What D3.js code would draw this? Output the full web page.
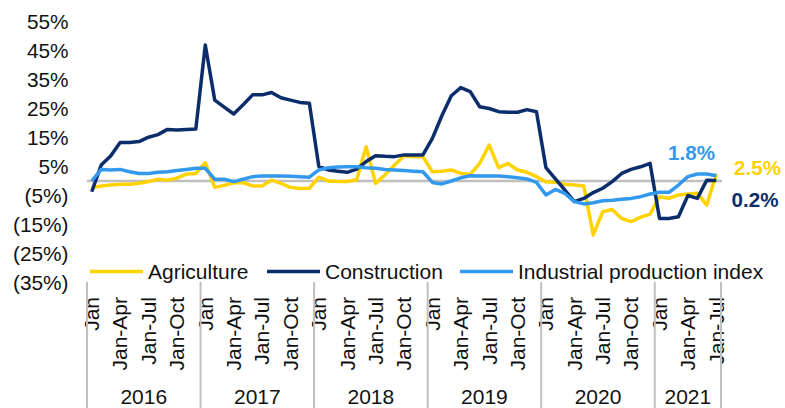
<!DOCTYPE html>
<head>
	<meta charset="utf-8">
	<script src="https://d3js.org/d3.v7.min.js"></script>
	<style>
		body { margin: 0; background: #fff; }
		text { font-family: "Liberation Sans", Arial, sans-serif; fill: #111; }
	</style>
</head>
<body>
	<svg id="chart" width="785" height="408"></svg>
	<script>

	// Years and how many months of each are shown
	var years = ["2016", "2017", "2018", "2019", "2020", "2021"];
	var monthsPerYear = [12, 12, 12, 12, 12, 7];
	// Month-in-year labels (every third month is labelled)
	var tickText = ["Jan", "", "", "Jan-Apr", "", "", "Jan-Jul", "", "", "Jan-Oct", "", ""];
	var yTicks = [55, 45, 35, 25, 15, 5, -5, -15, -25, -35];

	// Series, % year on year, Jan 2016 .. Jul 2021
	var agriculture = [
		-2.3, -1.7, -1.4, -1.1, -1.1, -0.8, -0.2, 0.6, 0.3, 1.0, 2.4, 2.6,
		6.3, -2.2, -1.5, -0.6, -0.6, -1.7, -1.7, 0.3, -0.8, -2.2, -2.6, -2.5,
		1.3, 0.0, -0.2, -0.2, 0.4, 11.8, -0.8, 2.1, 5.5, 8.7, 8.4, 8.4,
		3.2, 3.4, 3.8, 2.6, 2.3, 6.1, 12.4, 4.6, 6.1, 3.8, 3.0, 1.5,
		-0.3, -0.4, -1.1, -1.4, -1.7, -18.6, -10.6, -9.8, -12.9, -14.0, -12.5, -11.4,
		-5.4, -6.0, -4.8, -4.5, -4.2, -8.3, 2.5
	];
	var construction = [
		-3.7, 5.5, 8.6, 13.3, 13.3, 13.6, 15.1, 16.0, 17.8, 17.6, 17.8, 17.9,
		46.9, 27.9, 25.5, 23.1, 26.3, 29.7, 29.7, 30.5, 28.7, 27.9, 27.1, 26.8,
		5.0, 3.8, 3.4, 3.0, 4.1, 6.7, 8.7, 8.5, 8.4, 9.0, 9.0, 9.0,
		14.7, 22.5, 29.4, 32.2, 30.8, 25.6, 25.0, 23.9, 23.7, 23.7, 24.6, 23.9,
		4.6, 0.7, -3.1, -7.1, -6.0, -4.0, -2.5, -0.2, 2.6, 4.0, 4.9, 6.1,
		-12.9, -12.9, -12.3, -5.0, -6.0, 0.3, 0.2
	];
	var industrial = [
		0.0, 4.0, 3.8, 4.0, 3.2, 2.6, 2.6, 3.0, 3.2, 3.6, 4.0, 4.4,
		4.4, 0.6, 0.6, -0.2, 0.6, 1.5, 1.7, 1.7, 1.7, 1.6, 1.5, 1.3,
		3.8, 4.6, 4.8, 4.9, 4.9, 4.6, 4.4, 4.0, 3.8, 3.6, 3.4, 3.2,
		-0.5, -1.0, 0.0, 1.1, 1.8, 1.7, 1.7, 1.7, 1.5, 1.1, 0.7, -0.5,
		-4.8, -2.9, -4.3, -7.1, -7.9, -7.5, -6.8, -6.6, -6.3, -6.0, -5.4, -4.5,
		-3.9, -3.9, -1.4, 1.5, 2.4, 2.4, 1.8
	];

	var seriesNames = ["Agriculture", "Construction", "Industrial production index"];
	var seriesColors = ["#ffd200", "#0b2e6b", "#3399ee"];
	var lastLabels = ["2.5%", "0.2%", "1.8%"];

	// category keys
	var categories = [];
	years.forEach(function(y, yi) {
		for (var m = 0; m < monthsPerYear[yi]; m++) categories.push(y + "-" + m);
	});

	var svg = d3.select("#chart");

	var x = d3.scaleBand()
		.domain(categories)
		.range([87, 721]);
	var bw = x.bandwidth();
	var cx = function(i) { return x(categories[i]) + bw / 2; };

	var y = d3.scaleLinear()
		.domain([-35, 55])
		.range([282.5, 21.5]);

	// y axis labels
	svg.append("g")
		.attr("transform", "translate(68.5,0)")
		.call(d3.axisLeft(y).tickValues(yTicks).tickSize(0).tickPadding(0)
			.tickFormat(function(d) { return d < 0 ? "(" + Math.abs(d) + "%)" : d + "%"; }))
		.call(function(g) {
			g.select(".domain").remove();
			g.selectAll("text").attr("font-size", 20.8).attr("font-family", null).attr("fill", "#111");
		});

	// zero line
	svg.append("line")
		.attr("x1", 87).attr("x2", 722)
		.attr("y1", y(0)).attr("y2", y(0))
		.attr("stroke", "#bfbfbf")
		.attr("stroke-width", 2.5);

	// lines
	var line = d3.line()
		.x(function(d, i) { return cx(i); })
		.y(function(d) { return y(d); });

	[agriculture, construction, industrial].forEach(function(s, k) {
		svg.append("path")
			.datum(s)
			.attr("fill", "none")
			.attr("stroke", seriesColors[k])
			.attr("stroke-width", 3.5)
			.attr("stroke-linejoin", "round")
			.attr("d", line);
	});

	// end labels
	var labelPos = [[757.5, 175], [755, 207], [691.5, 160]];
	lastLabels.forEach(function(t, k) {
		svg.append("text")
			.attr("x", labelPos[k][0])
			.attr("y", labelPos[k][1])
			.attr("text-anchor", "middle")
			.attr("font-size", 20.6)
			.attr("font-weight", "bold")
			.style("fill", seriesColors[k])
			.text(t);
	});

	// legend
	var legendX = [90, 267, 460];
	var legend = svg.append("g");
	seriesNames.forEach(function(n, k) {
		legend.append("line")
			.attr("x1", legendX[k]).attr("x2", legendX[k] + 53)
			.attr("y1", 271.5).attr("y2", 271.5)
			.attr("stroke", seriesColors[k])
			.attr("stroke-width", 3.5);
		legend.append("text")
			.attr("x", legendX[k] + 58)
			.attr("y", 271.5)
			.attr("dy", "0.35em")
			.attr("font-size", 21)
			.text(n);
	});

	// month labels
	var xa = svg.append("g");
	categories.forEach(function(c, i) {
		var m = +c.split("-")[1];
		if (!tickText[m]) return;
		xa.append("text")
			.attr("transform", "translate(" + cx(i) + ",297) rotate(-90)")
			.attr("text-anchor", "end")
			.attr("dy", "0.35em")
			.attr("font-size", 21)
			.text(tickText[m]);
	});

	// year separators and labels
	var start = 0;
	years.forEach(function(yr, yi) {
		var x0 = x(categories[start]);
		var end = start + monthsPerYear[yi] - 1;
		var x1 = x(categories[end]) + bw;
		xa.append("text")
			.attr("x", (x0 + x1) / 2)
			.attr("y", 404)
			.attr("text-anchor", "middle")
			.attr("font-size", 21)
			.text(yr);
		xa.append("line")
			.attr("x1", x0).attr("x2", x0)
			.attr("y1", 282).attr("y2", 408)
			.attr("stroke", "#bfbfbf").attr("stroke-width", 2);
		if (yi == years.length - 1) {
			xa.append("line")
				.attr("x1", x1).attr("x2", x1)
				.attr("y1", 282).attr("y2", 408)
				.attr("stroke", "#bfbfbf").attr("stroke-width", 2);
		}
		start = end + 1;
	});

	</script>
</body>
</html>
